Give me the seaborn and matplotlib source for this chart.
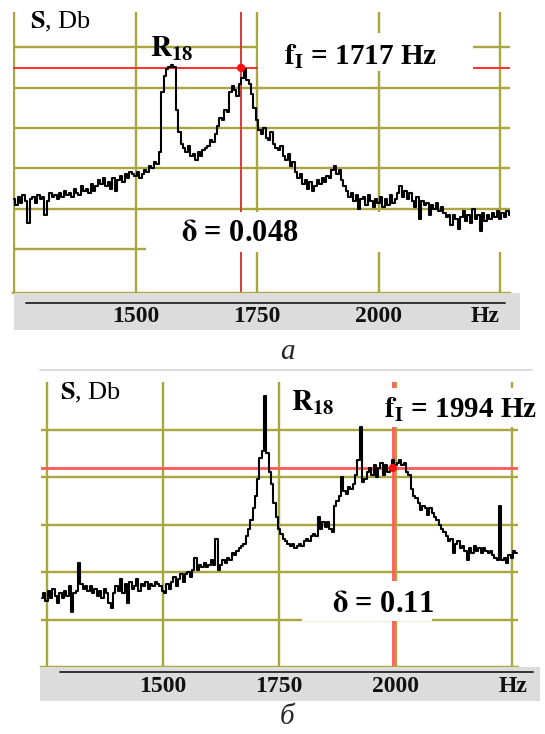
import numpy as np
import matplotlib
matplotlib.use("Agg")
import matplotlib.pyplot as plt
import seaborn as sns
from matplotlib.patches import Rectangle

# ---------------- data ----------------
# panel (a): spectrum level in grid units, 5 Hz step starting at 1250 Hz
freq_a_start, freq_step = 1250, 5
level_a = [
    2.25, 2.10, 2.30, 2.15, 2.35, 2.20, 1.65, 2.25, 2.30, 2.15,
    2.35, 2.25, 2.30, 1.85, 2.20, 2.40, 2.30, 2.35, 2.25, 2.40,
    2.30, 2.45, 2.35, 2.40, 2.30, 2.50, 2.40, 2.35, 2.55, 2.45,
    2.50, 2.40, 2.60, 2.45, 2.55, 2.70, 2.60, 2.75, 2.55, 2.65,
    2.50, 2.75, 2.45, 2.70, 2.80, 2.65, 2.85, 2.75, 2.90, 2.85,
    2.80, 2.90, 2.75, 2.85, 2.95, 2.90, 3.05, 3.00, 3.15, 3.10,
    3.40, 4.90, 5.30, 5.45, 5.50, 5.55, 5.50, 4.45, 3.90, 3.60,
    3.50, 3.40, 3.55, 3.30, 3.35, 3.20, 3.40, 3.30, 3.45, 3.50,
    3.55, 3.70, 3.65, 3.85, 4.05, 4.25, 4.20, 4.45, 4.40, 4.90,
    5.05, 4.95, 4.80, 5.10, 5.25, 5.45, 5.20, 5.10, 4.85, 4.50,
    4.20, 3.95, 3.85, 4.00, 3.75, 3.70, 3.90, 3.60, 3.50, 3.45,
    3.55, 3.30, 3.20, 3.35, 3.05, 3.15, 2.90, 2.75, 2.85, 2.60,
    2.70, 2.50, 2.65, 2.45, 2.55, 2.70, 2.60, 2.75, 2.65, 2.80,
    2.75, 2.95, 3.05, 2.85, 2.95, 2.70, 2.55, 2.45, 2.30, 2.40,
    2.20, 2.35, 2.00, 2.25, 2.30, 2.10, 2.35, 2.20, 2.05, 2.25,
    2.15, 2.30, 2.05, 2.25, 2.10, 2.35, 2.15, 2.25, 2.40, 2.55,
    2.30, 2.45, 2.25, 2.40, 2.20, 2.05, 2.30, 1.75, 2.20, 2.10,
    2.15, 1.85, 2.10, 2.00, 2.15, 1.95, 2.05, 1.90, 1.80, 1.85,
    1.60, 1.85, 1.75, 1.50, 1.80, 1.95, 1.70, 1.85, 1.65, 2.00,
    1.75, 1.85, 1.45, 1.90, 1.70, 1.85, 1.75, 1.90, 1.80, 1.95,
    1.75, 1.90, 1.80, 1.95, 1.85,
]
# panel (б): 5 Hz step starting at 1240 Hz
freq_b_start = 1240
level_b = [
    1.45, 1.55, 1.40, 1.60, 1.45, 1.65, 1.50, 1.35, 1.55, 1.45,
    1.60, 1.50, 1.70, 1.15, 1.55, 1.60, 2.20, 1.75, 1.65, 1.70,
    1.60, 1.70, 1.55, 1.65, 1.50, 1.60, 1.45, 1.65, 1.55, 1.35,
    1.25, 1.55, 1.70, 1.60, 1.85, 1.55, 1.75, 1.35, 1.80, 1.65,
    1.70, 1.85, 1.60, 1.75, 1.70, 1.80, 1.65, 1.75, 1.70, 1.80,
    1.75, 1.70, 1.60, 1.55, 1.75, 1.65, 1.80, 1.90, 1.70, 1.85,
    1.95, 1.80, 1.95, 2.00, 1.90, 2.05, 2.30, 2.05, 2.15, 2.10,
    2.20, 2.10, 2.15, 2.25, 2.15, 2.70, 2.05, 2.15, 2.25, 2.20,
    2.30, 2.25, 2.40, 2.35, 2.45, 2.50, 2.55, 2.60, 2.75, 2.90,
    3.10, 3.35, 3.60, 3.95, 4.40, 4.55, 5.70, 4.50, 4.10, 3.85,
    3.45, 3.15, 2.90, 2.80, 2.70, 2.65, 2.60, 2.55, 2.60, 2.50,
    2.55, 2.60, 2.55, 2.65, 2.70, 2.65, 2.75, 2.80, 2.75, 3.15,
    2.90, 3.05, 2.95, 3.05, 2.90, 2.85, 3.40, 3.50, 3.60, 4.00,
    3.70, 3.65, 3.80, 3.75, 3.85, 4.05, 4.35, 5.05, 3.90, 3.95,
    4.10, 4.20, 4.05, 4.25, 4.00, 4.20, 4.30, 4.05, 4.25, 4.10,
    4.20, 4.35, 4.25, 4.30, 4.35, 4.25, 4.30, 4.10, 4.05, 3.75,
    3.60, 3.55, 3.45, 3.30, 3.40, 3.35, 3.20, 3.35, 3.25, 3.15,
    3.10, 3.00, 2.90, 2.85, 2.75, 2.65, 2.70, 2.40, 2.60, 2.65,
    2.50, 2.55, 2.45, 2.25, 2.50, 2.40, 2.55, 2.45, 2.50, 2.40,
    2.50, 2.45, 2.40, 2.45, 2.35, 2.30, 2.25, 3.40, 2.25, 2.30,
    2.20, 2.35, 2.30, 2.45, 2.40,
]
tick_values = [1500, 1750, 2000]
tick_labels = ["1500", "1750", "2000"]
grid_x = [1250, 1500, 1750, 2000, 2250]
grid_y_a = [1, 2, 3, 4, 5, 6]
grid_y_b = [1, 2, 3, 4, 5]
marker_a = (1717, 5.49)
marker_b = (1994, 4.19)
label_a = "1717"
label_b = "1994"
delta_a = "0.048"
delta_b = "0.11"

# ---------------- style ----------------
sns.set_theme(style="white")
plt.rcParams["font.family"] = ["Liberation Serif", "DejaVu Serif"]
plt.rcParams["mathtext.fontset"] = "stix"

W, H = 545, 734
OLIVE = "#aaa63e"
fig = plt.figure(figsize=(W / 100, H / 100), dpi=100)
fig.patch.set_facecolor("white")


def fx(x):
    return x / W


def fy(y):
    return 1 - y / H


def px_axes(l, t, r, b):
    return fig.add_axes([l / W, 1 - b / H, (r - l) / W, (b - t) / H])


def fig_rect(ax, l, t, r, b, z):
    ax.add_patch(Rectangle((fx(l), fy(b)), (r - l) / W, (b - t) / H,
                           transform=fig.transFigure, facecolor="white",
                           edgecolor="none", zorder=z, clip_on=False))


def fig_text(ax, x, y, s, size, weight="bold", **kw):
    ax.text(fx(x), fy(y), s, transform=fig.transFigure, ha="center",
            va="center", fontsize=size, fontweight=weight, zorder=8,
            clip_on=False, color="black", **kw)


def panel(box, xlim, ylim, gridy, start, level, marker, red_h, red_v, red_lw):
    l, t, r, b = box
    ax = px_axes(l, t, r, b)
    freq = start + freq_step * np.arange(len(level))
    ax.set_xlim(*xlim)
    ax.set_ylim(*ylim)
    ax.set_xticks(grid_x)
    ax.set_yticks(gridy)
    ax.set_axisbelow(True)
    ax.grid(True, color=OLIVE, lw=1.7)
    ax.tick_params(length=0, labelbottom=False, labelleft=False)
    for s in ["top", "left", "right"]:
        ax.spines[s].set_visible(False)
    ax.spines["bottom"].set_color(OLIVE)
    ax.spines["bottom"].set_linewidth(1.7)
    ax.set_facecolor("white")
    ax.axhline(marker[1], color=red_h, lw=red_lw, zorder=2)
    ax.axvline(marker[0], color=red_v, lw=red_lw, zorder=2)
    sns.lineplot(x=freq, y=level, ax=ax, color="black", linewidth=1.5,
                 drawstyle="steps-mid", zorder=5, legend=False)
    ax.scatter([marker[0]], [marker[1]], s=36, color="#ff1010", zorder=6,
               edgecolor="none")
    ax.set_xlabel("")
    ax.set_ylabel("")
    return ax


def band(box, main_box, xlim, line_px, label_y, hz_x):
    l, t, r, b = box
    ml, mr = main_box[0], main_box[2]

    def f_of(p):
        return xlim[0] + (p - ml) / (mr - ml) * (xlim[1] - xlim[0])

    bx = px_axes(l, t, r, b)
    bx.set_facecolor("#dcdcdc")
    bx.set_xlim(f_of(l), f_of(r))
    bx.set_ylim(b, t)
    for s in bx.spines.values():
        s.set_visible(False)
    bx.set_xticks([])
    bx.set_yticks([])
    bx.plot([f_of(line_px[0]), f_of(line_px[1])], [line_px[2]] * 2,
            color="#333333", lw=1.4)
    for v, lab in zip(tick_values, tick_labels):
        bx.text(v, label_y, lab, ha="center", va="center", fontsize=17,
                fontweight="bold", color="#111111")
    bx.text(f_of(hz_x), label_y, "Hz", ha="center", va="center", fontsize=17,
            fontweight="bold", color="#111111")
    return bx


# ---------------- panel a ----------------
box_a = (13, 12, 510, 293)
xlim_a = (1248, 2270)
ax_a = panel(box_a, xlim_a, (-0.09, 6.875), grid_y_a, freq_a_start, level_a,
             marker_a, "#ff3030", "#d83a3a", 1.4)
band((14, 293, 520, 330), box_a, xlim_a, (26, 505, 303), 316, 485)
fig_rect(ax_a, 258, 33, 473, 71, 4)
fig_rect(ax_a, 146, 212, 512, 252, 4)
fig_text(ax_a, 61, 22, r"$\mathbf{S}$, Db", 19, weight="normal")
fig_text(ax_a, 172, 49, r"$\mathbf{R_{18}}$", 21)
fig_text(ax_a, 361, 57, r"$\mathbf{f_I}$ = " + label_a + " Hz", 21)
fig_text(ax_a, 240, 234, r"$\mathbf{\delta}$ = " + delta_a, 22)
fig.text(fx(287), fy(352), "а", ha="center", va="center", fontsize=21,
         style="italic")

# ---------------- panel б ----------------
box_b = (41, 382, 518, 667)
xlim_b = (1238, 2263)
fig.add_artist(plt.Line2D([fx(40), fx(532)], [fy(370), fy(370)],
                          color="#d6d6d6", lw=1.2, transform=fig.transFigure))
ax_b = panel(box_b, xlim_b, (0, 6), grid_y_b, freq_b_start, level_b,
             marker_b, "#ff5a5a", "#ff5a5a", 2.0)
band((40, 667, 540, 701), box_b, xlim_b, (60, 533, 672), 686, 513)
fig_rect(ax_b, 379, 388, 540, 427, 4)
fig_rect(ax_b, 302, 581, 432, 621, 4)
fig_text(ax_b, 91, 393, r"$\mathbf{S}$, Db", 19, weight="normal")
fig_text(ax_b, 313, 403, r"$\mathbf{R_{18}}$", 21)
fig_text(ax_b, 461, 410, r"$\mathbf{f_I}$ = " + label_b + " Hz", 21)
fig_text(ax_b, 383, 604, r"$\mathbf{\delta}$ = " + delta_b, 22)
fig.text(fx(287), fy(717), "б", ha="center", va="center", fontsize=21,
         style="italic")

fig.savefig("out.png", dpi=100, facecolor="white")
